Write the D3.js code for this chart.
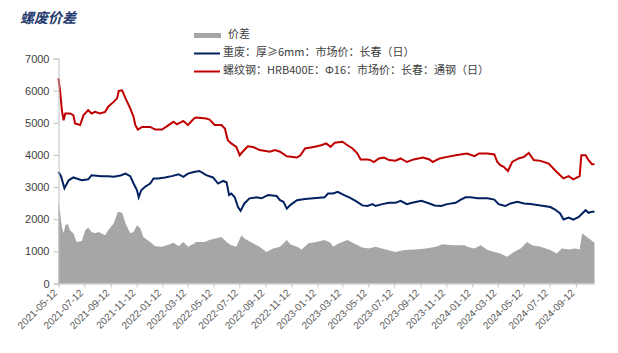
<!DOCTYPE html>
<html>
<head>
<meta charset="utf-8">
<script src="https://cdn.jsdelivr.net/npm/d3@7"></script>
<style>
  body { margin: 0; background: #fff; }
  svg { display: block; }
</style>
</head>
<body>
<div id="chart"></div>
<script>
// 价差 (grey area)
const spreadDates = ['2021-05-12','2021-05-16','2021-05-20','2021-05-24','2021-05-28','2021-06-03','2021-06-08','2021-06-16','2021-06-24','2021-07-06','2021-07-14','2021-07-21','2021-07-29','2021-08-06','2021-08-14','2021-08-30','2021-09-06','2021-09-19','2021-09-29','2021-10-09','2021-10-17','2021-10-28','2021-11-05','2021-11-13','2021-11-21','2021-11-28','2021-12-14','2021-12-26','2022-01-11','2022-01-22','2022-02-07','2022-02-19','2022-03-02','2022-03-13','2022-03-27','2022-04-01','2022-04-21','2022-05-03','2022-05-31','2022-06-12','2022-06-23','2022-07-05','2022-07-17','2022-07-24','2022-08-13','2022-08-29','2022-09-14','2022-09-30','2022-10-16','2022-11-01','2022-11-09','2022-11-25','2022-12-06','2022-12-22','2023-01-10','2023-01-29','2023-02-12','2023-02-18','2023-03-04','2023-03-24','2023-04-12','2023-04-28','2023-05-13','2023-05-29','2023-06-22','2023-07-15','2023-08-06','2023-08-30','2023-09-25','2023-10-18','2023-11-03','2023-11-26','2023-12-12','2023-12-26','2023-12-31','2024-01-17','2024-02-01','2024-02-17','2024-03-04','2024-03-18','2024-04-03','2024-04-19','2024-05-05','2024-05-20','2024-06-01','2024-06-21','2024-07-14','2024-07-29','2024-08-10','2024-08-26','2024-09-11','2024-09-21','2024-09-27','2024-10-08','2024-10-26'];
const spreadValues = [2590,2180,1760,1560,1810,1850,1660,1560,1290,1320,1660,1740,1600,1560,1600,1500,1660,1870,2230,2200,1870,1560,1600,1810,1710,1450,1290,1160,1140,1190,1270,1160,1290,1140,1240,1290,1290,1350,1450,1290,1190,1140,1500,1400,1250,1140,980,1090,1140,1350,1220,1140,1060,1250,1290,1350,1270,1140,1250,1350,1220,1120,1090,1140,1060,980,1040,1060,1090,1140,1220,1190,1190,1190,1140,1090,1190,1040,980,930,830,980,1090,1290,1190,1140,1040,930,1090,1060,1090,1060,1560,1450,1270];

// 重废：厚≥6mm (navy line)
const scrapDates = ['2021-05-12','2021-05-18','2021-05-26','2021-06-05','2021-06-16','2021-07-06','2021-07-21','2021-07-29','2021-08-21','2021-09-06','2021-09-19','2021-10-05','2021-10-17','2021-10-28','2021-11-05','2021-11-13','2021-11-17','2021-11-23','2021-12-02','2021-12-14','2021-12-22','2022-01-02','2022-01-18','2022-02-03','2022-02-19','2022-03-02','2022-03-13','2022-03-27','2022-04-09','2022-04-25','2022-05-11','2022-05-23','2022-06-04','2022-06-12','2022-06-18','2022-06-23','2022-07-01','2022-07-09','2022-07-15','2022-07-24','2022-08-05','2022-08-21','2022-09-02','2022-09-18','2022-10-08','2022-10-16','2022-10-24','2022-11-01','2022-11-09','2022-11-25','2022-12-14','2023-01-03','2023-01-29','2023-02-06','2023-02-18','2023-03-01','2023-03-16','2023-03-28','2023-04-12','2023-04-28','2023-05-10','2023-05-22','2023-05-29','2023-06-14','2023-06-30','2023-07-15','2023-07-27','2023-08-11','2023-08-23','2023-09-14','2023-10-03','2023-10-15','2023-10-31','2023-11-14','2023-12-04','2023-12-15','2023-12-27','2024-01-08','2024-01-25','2024-02-17','2024-03-04','2024-03-14','2024-03-30','2024-04-11','2024-04-27','2024-05-13','2024-05-28','2024-06-21','2024-07-14','2024-07-25','2024-08-06','2024-08-14','2024-08-26','2024-09-06','2024-09-19','2024-10-05','2024-10-12','2024-10-20','2024-10-26'];
const scrapValues = [3470,3340,2960,3210,3300,3210,3240,3370,3340,3340,3320,3360,3420,3340,3110,2900,2680,2900,3010,3110,3270,3270,3300,3340,3400,3320,3420,3470,3500,3370,3300,3110,3190,3150,2750,2800,2690,2380,2260,2490,2650,2680,2650,2750,2720,2590,2540,2330,2440,2590,2630,2650,2680,2800,2800,2850,2750,2680,2570,2430,2410,2470,2410,2470,2510,2510,2570,2470,2510,2570,2490,2430,2410,2470,2510,2600,2680,2680,2650,2650,2610,2470,2410,2490,2540,2490,2470,2430,2380,2300,2180,1990,2050,1990,2070,2280,2200,2230,2230];

// 螺纹钢：HRB400E：Φ16 (red line)
const rebarDates = ['2021-05-12','2021-05-16','2021-05-20','2021-05-24','2021-05-28','2021-06-08','2021-06-16','2021-06-20','2021-07-02','2021-07-10','2021-07-21','2021-07-29','2021-08-06','2021-08-18','2021-08-30','2021-09-06','2021-09-19','2021-09-27','2021-10-01','2021-10-09','2021-10-17','2021-10-28','2021-11-05','2021-11-09','2021-11-15','2021-11-25','2021-12-14','2021-12-26','2022-01-11','2022-01-22','2022-02-07','2022-02-15','2022-03-02','2022-03-13','2022-03-27','2022-04-01','2022-04-25','2022-05-03','2022-05-15','2022-05-31','2022-06-08','2022-06-15','2022-06-23','2022-07-05','2022-07-13','2022-07-20','2022-08-01','2022-08-13','2022-08-29','2022-09-22','2022-10-04','2022-10-16','2022-11-01','2022-11-25','2022-12-03','2022-12-14','2023-01-03','2023-01-21','2023-02-02','2023-02-12','2023-02-22','2023-03-12','2023-03-24','2023-04-05','2023-04-16','2023-04-24','2023-05-10','2023-05-17','2023-05-25','2023-06-06','2023-06-18','2023-06-30','2023-07-15','2023-07-27','2023-08-11','2023-08-27','2023-09-18','2023-10-03','2023-10-11','2023-10-27','2023-11-14','2023-12-04','2023-12-15','2023-12-31','2024-01-17','2024-01-28','2024-02-17','2024-03-04','2024-03-11','2024-03-18','2024-03-26','2024-04-05','2024-04-15','2024-04-30','2024-05-13','2024-05-24','2024-06-05','2024-06-21','2024-07-10','2024-07-25','2024-08-06','2024-08-14','2024-08-26','2024-09-06','2024-09-21','2024-09-25','2024-10-05','2024-10-12','2024-10-20','2024-10-26'];
const rebarValues = [6380,5960,5390,5080,5290,5290,5240,4980,4930,5240,5390,5290,5340,5290,5340,5500,5650,5760,5990,6010,5760,5450,5180,4930,4790,4870,4870,4790,4790,4890,5030,4950,5060,4930,5130,5165,5130,5100,4930,4930,4820,4460,4360,4250,3990,4100,4270,4250,4150,4100,4150,4100,3960,3920,3990,4200,4250,4300,4360,4250,4380,4410,4300,4200,4050,3860,3860,3840,3780,3890,3920,3840,3820,3890,3780,3860,3920,3860,3780,3890,3940,3990,4010,4045,3960,4045,4045,4014,3780,3680,3630,3500,3780,3890,3940,4060,3840,3815,3730,3525,3370,3270,3340,3240,3340,3990,3990,3840,3710,3710];

const yTicks = [0, 1000, 2000, 3000, 4000, 5000, 6000, 7000];
const xTickLabels = ['2021-05-12','2021-07-12','2021-09-12','2021-11-12','2022-01-12','2022-03-12','2022-05-12','2022-07-12','2022-09-12','2022-11-12','2023-01-12','2023-03-12','2023-05-12','2023-07-12','2023-09-12','2023-11-12','2024-01-12','2024-03-12','2024-05-12','2024-07-12','2024-09-12'];
const seriesNames = ['价差', '重废：厚≥6mm：市场价：长春（日）', '螺纹钢：HRB400E：Φ16：市场价：长春：通钢（日）'];

const width = 618;
const height = 353;
const plotLeft = 58.5, plotRight = 594.5, plotTop = 58.5, plotBottom = 283.5;

const navy = '#002060';
const red = '#c00000';
const grey = '#a6a6a6';
const axisGrey = '#bfbfbf';

const parse = d3.timeParse('%Y-%m-%d');
const zip = (dates, values) => dates.map((d, i) => ({ date: parse(d), value: values[i] }));
const spread = zip(spreadDates, spreadValues);
const scrap = zip(scrapDates, scrapValues);
const rebar = zip(rebarDates, rebarValues);

const svg = d3.select('#chart').append('svg')
  .attr('width', width)
  .attr('height', height);

const x = d3.scaleTime()
  .domain([parse('2021-05-12'), parse('2024-10-26')])
  .range([plotLeft, plotRight]);

const y = d3.scaleLinear()
  .domain([0, 7000])
  .range([plotBottom, plotTop]);

// title
svg.append('text')
  .attr('x', 20)
  .attr('y', 23)
  .attr('font-family', '"Noto Sans CJK SC", sans-serif')
  .attr('font-size', '14px')
  .attr('font-weight', 'bold')
  .attr('font-style', 'italic')
  .attr('fill', '#1f3a6e')
  .text('螺废价差');

// grey area first, lines on top
const area = d3.area()
  .x(d => x(d.date))
  .y0(y(0))
  .y1(d => y(d.value));

svg.append('path')
  .datum(spread)
  .attr('d', area)
  .attr('fill', grey);

const line = d3.line()
  .x(d => x(d.date))
  .y(d => y(d.value));

svg.append('path')
  .datum(scrap)
  .attr('d', line)
  .attr('fill', 'none')
  .attr('stroke', navy)
  .attr('stroke-width', 2);

svg.append('path')
  .datum(rebar)
  .attr('d', line)
  .attr('fill', 'none')
  .attr('stroke', red)
  .attr('stroke-width', 2);

// y axis
const yAxis = svg.append('g')
  .attr('transform', `translate(${plotLeft},0)`)
  .call(d3.axisLeft(y).tickValues(yTicks).tickSize(5).tickPadding(4).tickFormat(d3.format('d')));
yAxis.select('.domain').attr('stroke', axisGrey);
yAxis.selectAll('.tick line').attr('stroke', axisGrey);
yAxis.selectAll('text')
  .attr('font-family', '"Liberation Sans", Arial, sans-serif')
  .attr('font-size', '11px')
  .attr('fill', '#404040');

// x axis
const xAxis = svg.append('g')
  .attr('transform', `translate(0,${plotBottom})`)
  .call(d3.axisBottom(x).tickValues(xTickLabels.map(parse)).tickSize(4).tickFormat(d3.timeFormat('%Y-%m-%d')));
xAxis.select('.domain').attr('stroke', axisGrey).attr('d', `M${plotLeft},0.5H${plotRight}`);
xAxis.selectAll('.tick line').attr('stroke', axisGrey);
xAxis.selectAll('text')
  .attr('font-family', '"Liberation Sans", Arial, sans-serif')
  .attr('font-size', '10px')
  .attr('fill', '#595959')
  .attr('text-anchor', 'end')
  .attr('dy', null)
  .attr('y', 0)
  .attr('transform', 'translate(-1,10) rotate(-45)');

// legend
const legend = svg.append('g')
  .attr('font-family', '"Noto Sans CJK SC", sans-serif')
  .attr('font-size', '11px')
  .attr('fill', '#404040');

legend.append('rect')
  .attr('x', 194).attr('y', 33)
  .attr('width', 27).attr('height', 5)
  .attr('fill', grey);
legend.append('text')
  .attr('x', 228).attr('y', 35.5)
  .attr('dominant-baseline', 'middle')
  .text(seriesNames[0]);

[[navy, 53.5], [red, 71.5]].forEach(([c, yy], i) => {
  legend.append('line')
    .attr('x1', 194).attr('x2', 220)
    .attr('y1', yy).attr('y2', yy)
    .attr('stroke', c)
    .attr('stroke-width', 2);
  legend.append('text')
    .attr('x', 223).attr('y', yy)
    .attr('dominant-baseline', 'middle')
    .text(seriesNames[i + 1]);
});
</script>
</body>
</html>
